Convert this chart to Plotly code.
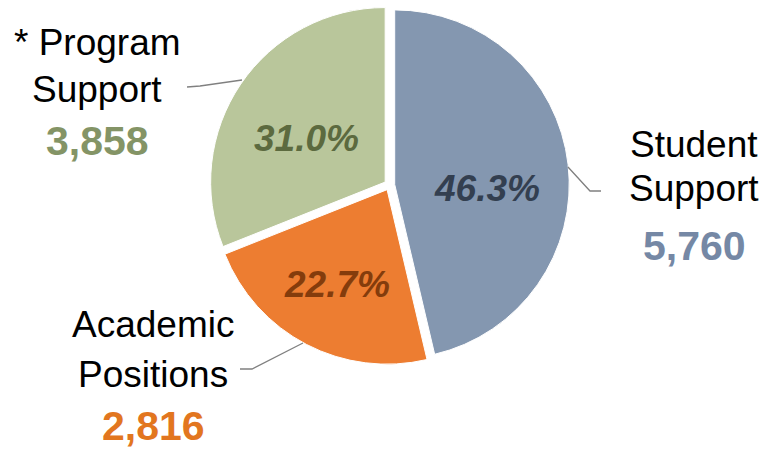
import plotly.graph_objects as go

# Budget split by category
categories = ["Student Support", "Academic Positions", "* Program Support"]
values = [5760, 2816, 3858]

slice_colors = ["#8497B0", "#ED7D31", "#B9C69B"]
pct_colors = ["#333F50", "#843C0C", "#5C6A3F"]
value_colors = ["#7588A5", "#E2761F", "#849466"]

W, H = 764, 450
FONT = "Liberation Sans, Arial, sans-serif"


def px(x, y):
    """Pixel position -> paper coordinates."""
    return x / W, 1 - y / H


def shares_to_tenths(vals):
    """Percent shares rounded to 0.1 with largest-remainder so they sum to 100."""
    total = sum(vals)
    raw = [v * 1000 / total for v in vals]
    floors = [int(r) for r in raw]
    left = 1000 - sum(floors)
    order = sorted(range(len(vals)), key=lambda i: raw[i] - floors[i], reverse=True)
    for i in order[:left]:
        floors[i] += 1
    return [f / 10 for f in floors]


pct_text = [f"<b><i>{p:.1f}%</i></b>" for p in shares_to_tenths(values)]

fig = go.Figure(
    go.Pie(
        labels=categories,
        values=values,
        sort=False,
        direction="clockwise",
        rotation=0,
        pull=[0.03, 0.03, 0.03],
        marker=dict(colors=slice_colors, line=dict(color="white", width=1)),
        textinfo="none",
        domain=dict(x=[0.27454, 0.74509], y=[0.18833, 0.98944]),
        hoverinfo="label+value+percent",
        showlegend=False,
    )
)

annotations = []

# Percent labels inside the slices
pct_pos = {
    "Student Support": (487, 189),
    "Academic Positions": (337, 284),
    "* Program Support": (306, 138),
}
for cat, txt, col in zip(categories, pct_text, pct_colors):
    ax, ay = px(*pct_pos[cat])
    annotations.append(dict(
        x=ax, y=ay, xref="paper", yref="paper", text=txt,
        showarrow=False, xanchor="center", yanchor="middle",
        font=dict(family=FONT, size=37, color=col),
    ))

# Outside category labels: name lines in black, value in slice colour
label_layout = {
    "* Program Support": (97, ["* Program", "Support"], [42, 89], 141),
    "Student Support": (694, ["Student", "Support"], [144, 189], 246),
    "Academic Positions": (153, ["Academic", "Positions"], [324, 374], 426),
}

for cat, val, vcol in zip(categories, values, value_colors):
    cx, lines, ys, vy = label_layout[cat]
    for line, ly in zip(lines, ys):
        ax, ay = px(cx, ly)
        annotations.append(dict(
            x=ax, y=ay, xref="paper", yref="paper", text=line,
            showarrow=False, xanchor="center", yanchor="middle",
            font=dict(family=FONT, size=37, color="black"),
        ))
    ax, ay = px(cx, vy)
    annotations.append(dict(
        x=ax, y=ay, xref="paper", yref="paper", text=f"<b>{val:,}</b>",
        showarrow=False, xanchor="center", yanchor="middle",
        font=dict(family=FONT, size=41, color=vcol),
    ))

# Leader lines from labels to slices
leaders = [
    [(187, 87), (200, 86), (242, 80)],
    [(568, 167), (590, 191), (601, 191)],
    [(303, 343), (252, 369), (240, 369)],
]
shapes = []
for pts in leaders:
    path = ""
    for i, (x, y) in enumerate(pts):
        fx, fy = px(x, y)
        path += ("M" if i == 0 else "L") + f"{fx},{fy} "
    shapes.append(dict(type="path", xref="paper", yref="paper", path=path.strip(),
                       line=dict(color="#808080", width=1.3)))

fig.update_layout(
    width=W, height=H,
    margin=dict(l=0, r=0, t=0, b=0),
    paper_bgcolor="white",
    plot_bgcolor="white",
    annotations=annotations,
    shapes=shapes,
)

fig.write_html("out.html")
